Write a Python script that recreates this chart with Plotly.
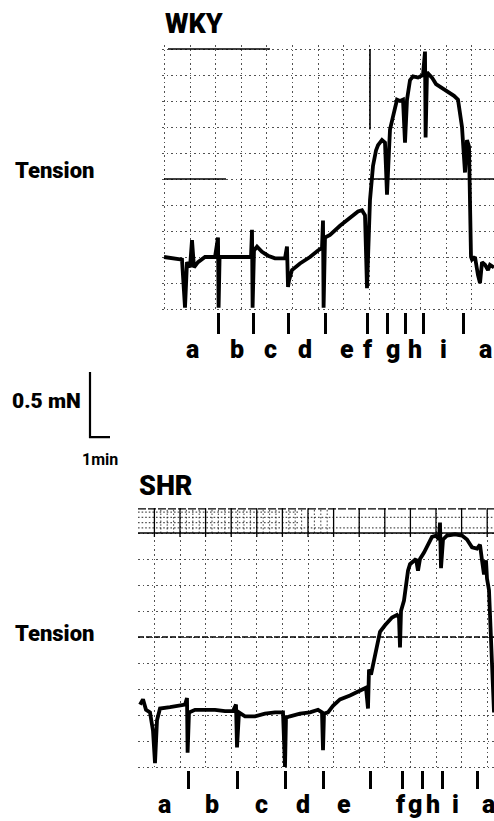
import plotly.graph_objects as go

# ---------------- data (time in min, tension in mN above resting level) ----------------
# WKY trace
wky_t = [0.10, 0.65, 1.00, 1.15, 1.25, 1.40, 1.50, 1.60, 1.80, 2.15, 2.65, 2.80, 2.83, 2.88,
         3.90, 4.45, 4.50, 4.53, 4.60, 4.75, 5.00, 5.30, 5.65, 6.15, 6.25, 6.30, 6.35, 6.50,
         6.90, 7.40, 7.80, 8.00, 8.05, 8.08, 8.15, 8.40, 8.90, 9.40, 9.80, 10.00, 10.15, 10.25,
         10.30, 10.40, 10.55, 10.70, 10.80, 11.00, 11.15, 11.25, 11.35, 11.40, 11.55, 11.65,
         11.75, 11.90, 12.05, 12.15, 12.25, 12.40, 12.55, 12.80, 13.05, 13.15, 13.18, 13.25,
         13.50, 13.70, 13.90, 14.15, 14.40, 14.60, 14.80, 15.00, 15.15, 15.25, 15.35, 15.45,
         15.50, 15.65, 15.80, 15.90, 16.00, 16.15, 16.30, 16.40, 16.60]
wky_v = [0.00, -0.01, -0.02, -0.39, -0.04, -0.08, 0.13, -0.08, -0.04, 0.00, 0.00, 0.15, -0.39, 0.00,
         0.00, 0.00, 0.21, -0.39, 0.05, 0.08, 0.04, 0.01, -0.01, -0.01, 0.08, -0.23, -0.18, -0.10,
         -0.05, 0.00, 0.05, 0.07, 0.28, -0.39, 0.15, 0.17, 0.24, 0.30, 0.35, 0.36, 0.32, -0.24,
         0.05, 0.44, 0.70, 0.82, 0.86, 0.90, 0.88, 0.48, 0.82, 0.98, 1.08, 1.15, 1.21, 1.20,
         1.21, 0.88, 1.21, 1.36, 1.39, 1.38, 1.40, 1.58, 0.92, 1.42, 1.38, 1.33, 1.31, 1.28,
         1.26, 1.24, 1.21, 1.00, 0.65, 0.90, 0.85, 0.00, -0.02, 0.00, -0.14, -0.20, -0.04,
         -0.06, -0.10, -0.06, -0.08]

# SHR trace
shr_t = [0.10, 0.25, 0.40, 0.60, 0.75, 0.85, 0.95, 1.10, 1.60, 2.10, 2.35, 2.45, 2.48, 2.55,
         2.85, 3.35, 3.85, 4.35, 4.75, 4.90, 4.95, 5.05, 5.35, 5.85, 6.35, 6.85, 7.25, 7.35,
         7.40, 7.60, 8.10, 8.60, 9.00, 9.20, 9.25, 9.30, 9.50, 9.75, 10.10, 10.60, 11.10, 11.40,
         11.50, 11.55, 11.65, 11.80, 11.95, 12.10, 12.35, 12.70, 12.95, 13.05, 13.10, 13.15,
         13.30, 13.40, 13.50, 13.60, 13.75, 13.90, 14.00, 14.10, 14.30, 14.50, 14.70, 14.90,
         15.05, 15.10, 15.15, 15.25, 15.45, 15.85, 16.20, 16.45, 16.70, 16.95, 17.10, 17.20,
         17.30, 17.40, 17.45, 17.55, 17.65, 17.75, 17.80]
shr_v = [0.08, 0.12, 0.04, 0.02, -0.12, -0.37, -0.04, 0.05, 0.06, 0.07, 0.08, 0.13, -0.29, 0.02,
         0.04, 0.04, 0.04, 0.03, 0.03, 0.08, -0.25, 0.02, -0.01, -0.01, 0.01, 0.02, 0.02, -0.40,
         -0.02, -0.01, 0.01, 0.02, 0.04, 0.02, -0.27, 0.01, 0.02, 0.07, 0.12, 0.15, 0.19, 0.21,
         0.05, 0.35, 0.31, 0.42, 0.54, 0.64, 0.69, 0.75, 0.77, 0.75, 0.52, 0.80, 0.88, 1.00,
         1.11, 1.16, 1.18, 1.20, 1.11, 1.20, 1.25, 1.31, 1.37, 1.38, 1.35, 1.48, 1.13, 1.35,
         1.38, 1.39, 1.38, 1.35, 1.29, 1.28, 1.31, 1.19, 1.08, 1.19, 1.05, 0.96, 0.58, 0.12, 0.02]

# stimulation marks (drug additions) and interval labels
wky_marks = [2.80, 4.55, 6.30, 8.15, 10.25, 11.25, 12.15, 13.05, 15.05]
wky_label_t = [1.50, 3.75, 5.40, 7.15, 9.25, 10.30, 11.55, 12.65, 14.05, 16.15]
shr_marks = [2.50, 4.95, 7.35, 9.25, 11.60, 13.20, 14.20, 15.20, 16.95]
shr_label_t = [1.30, 3.70, 6.15, 8.25, 10.30, 13.15, 13.85, 14.75, 15.85, 17.50]
period_labels = ["a", "b", "c", "d", "e", "f", "g", "h", "i", "a"]

# scale bar
scale_mN = 0.5
scale_min = 1.0

# chart-paper grid
grid_step_mN = 0.2
grid_step_min = 1.28

# ---------------- layout geometry ----------------
W, H = 494, 821
PX_MIN = 20.0    # px per min
PX_MN = 130.0    # px per mN


def px_x(p):
    return p / W


def px_y(p):
    return 1 - p / H


BOLD = "Roboto, Liberation Sans, sans-serif"
DOT = "rgba(0,0,0,0.68)"
TRACE_W = 3.8

fig = go.Figure()

# traces
fig.add_trace(go.Scatter(x=wky_t, y=wky_v, mode="lines", xaxis="x", yaxis="y",
                         line=dict(color="black", width=TRACE_W), showlegend=False,
                         hoverinfo="skip"))
fig.add_trace(go.Scatter(x=shr_t, y=shr_v, mode="lines", xaxis="x2", yaxis="y2",
                         line=dict(color="black", width=TRACE_W), showlegend=False,
                         hoverinfo="skip"))
# scale bar
fig.add_trace(go.Scatter(x=[0.5, 0.5, 0.5 + scale_min],
                         y=[0.03 + scale_mN, 0.03, 0.03], mode="lines",
                         xaxis="x3", yaxis="y3",
                         line=dict(color="black", width=2.2), showlegend=False,
                         hoverinfo="skip"))

# panel geometry (pixels)
wky_l, wky_t0, wky_b = 162, 45, 312
shr_l, shr_t0, shr_b = 138, 508, 770
wky_zero = 257
shr_zero = 715


def xaxis_def(left, marks, ticklen, tick0, anchor):
    return dict(domain=[px_x(left), 1.0], anchor=anchor,
                range=[0, (W - left) / PX_MIN],
                showline=False, zeroline=False, showgrid=False,
                tickmode="array", tickvals=marks, ticktext=[""] * len(marks),
                ticks="outside", ticklen=ticklen, tickwidth=2.6, tickcolor="black",
                showticklabels=False, fixedrange=True,
                minor=dict(tickmode="linear", tick0=tick0, dtick=grid_step_min,
                           showgrid=True, gridcolor=DOT, gridwidth=1.2,
                           griddash="1.6px,3px", ticks="", ticklen=0))


def yaxis_def(top, bottom, zero, anchor):
    return dict(domain=[px_y(bottom), px_y(top)], anchor=anchor,
                range=[-(bottom - zero) / PX_MN, (zero - top) / PX_MN],
                showline=False, zeroline=False, showgrid=False,
                tickmode="array", tickvals=[], showticklabels=False, ticks="",
                fixedrange=True,
                minor=dict(tickmode="linear", tick0=0, dtick=grid_step_mN,
                           showgrid=True, gridcolor=DOT, gridwidth=1.2,
                           griddash="1.6px,3px", ticks="", ticklen=0))


fig.update_layout(
    width=W, height=H, margin=dict(l=0, r=0, t=0, b=0),
    paper_bgcolor="white", plot_bgcolor="white",
    xaxis=xaxis_def(wky_l, wky_marks, 21, 0.12, "y"),
    yaxis=yaxis_def(wky_t0, wky_b, wky_zero, "x"),
    xaxis2=xaxis_def(shr_l, shr_marks, 18, 0.82, "y2"),
    yaxis2=yaxis_def(shr_t0, shr_b, shr_zero, "x2"),
    xaxis3=dict(domain=[px_x(80), px_x(140)], range=[0, 60 / PX_MIN], visible=False,
                fixedrange=True, anchor="y3"),
    yaxis3=dict(domain=[px_y(441), px_y(365)], range=[0, 76 / PX_MN], visible=False,
                fixedrange=True, anchor="x3"),
)

shapes = []
# WKY chart-paper solid lines
shapes.append(dict(type="line", xref="x", yref="y", x0=0.1, x1=3.2, y0=0.6, y1=0.6,
                   line=dict(color="black", width=1.6)))
shapes.append(dict(type="line", xref="x", yref="y", x0=10.3, x1=16.6, y0=0.6, y1=0.6,
                   line=dict(color="black", width=1.6)))
shapes.append(dict(type="line", xref="x", yref="y", x0=0.3, x1=5.4, y0=1.6, y1=1.6,
                   line=dict(color="black", width=1.6)))
shapes.append(dict(type="line", xref="x", yref="y", x0=10.4, x1=10.4, y0=0.98, y1=1.6,
                   line=dict(color="black", width=1.6)))
# SHR chart-paper lines
shapes.append(dict(type="line", xref="x2", yref="y2", x0=0, x1=17.8, y0=1.4, y1=1.4,
                   line=dict(color="black", width=1.6)))
shapes.append(dict(type="line", xref="x2", yref="y2", x0=0, x1=17.8, y0=0.6, y1=0.6,
                   line=dict(color="black", width=1.4, dash="6px,2px")))
shapes.append(dict(type="line", xref="x2", yref="y2", x0=0, x1=17.8, y0=1.585, y1=1.585,
                   line=dict(color="black", width=1.2, dash="8px,2px")))
# dense band of chart paper at the top of the SHR record
for k in range(1, 5):
    shapes.append(dict(type="line", xref="x2", yref="y2", x0=0, x1=17.8 if k % 2 else 8.0,
                       y0=1.4 + 0.04 * k, y1=1.4 + 0.04 * k,
                       line=dict(color=DOT, width=1.2, dash="1.6px,2px")))
c = 0.82
while c < 17.8:
    shapes.append(dict(type="line", xref="x2", yref="y2", x0=c, x1=c, y0=1.37, y1=1.59,
                       line=dict(color="black", width=1.3)))
    if c < 9.0:
        for j in (0.25, 0.5, 0.75):
            shapes.append(dict(type="line", xref="x2", yref="y2",
                               x0=c + j * grid_step_min, x1=c + j * grid_step_min,
                               y0=1.40, y1=1.59,
                               line=dict(color=DOT, width=1.1, dash="1.6px,2px")))
    c += grid_step_min
fig.update_layout(shapes=shapes)

ann = []


def text(x, y, s, size, family=BOLD, xanchor="left", xref="paper", yref="paper",
         weight=900):
    ann.append(dict(x=x, y=y, xref=xref, yref=yref, text=s, showarrow=False,
                    xanchor=xanchor, yanchor="middle",
                    font=dict(family=family, size=size, color="black", weight=weight)))


text(px_x(163), px_y(24), "WKY", 27)
text(px_x(137), px_y(486), "SHR", 27)
text(px_x(13), px_y(170), "Tension", 22)
text(px_x(13), px_y(633), "Tension", 22)
text(px_x(10), px_y(401), "0.5 mN", 21)
text(px_x(80), px_y(460), "1min", 16, weight="bold")

for t, s in zip(wky_label_t, period_labels):
    text(t, px_y(349), s, 25, xanchor="center", xref="x")
for t, s in zip(shr_label_t, period_labels):
    text(t, px_y(804), s, 25, xanchor="center", xref="x2")

fig.update_layout(annotations=ann)

fig.write_html("out.html")
